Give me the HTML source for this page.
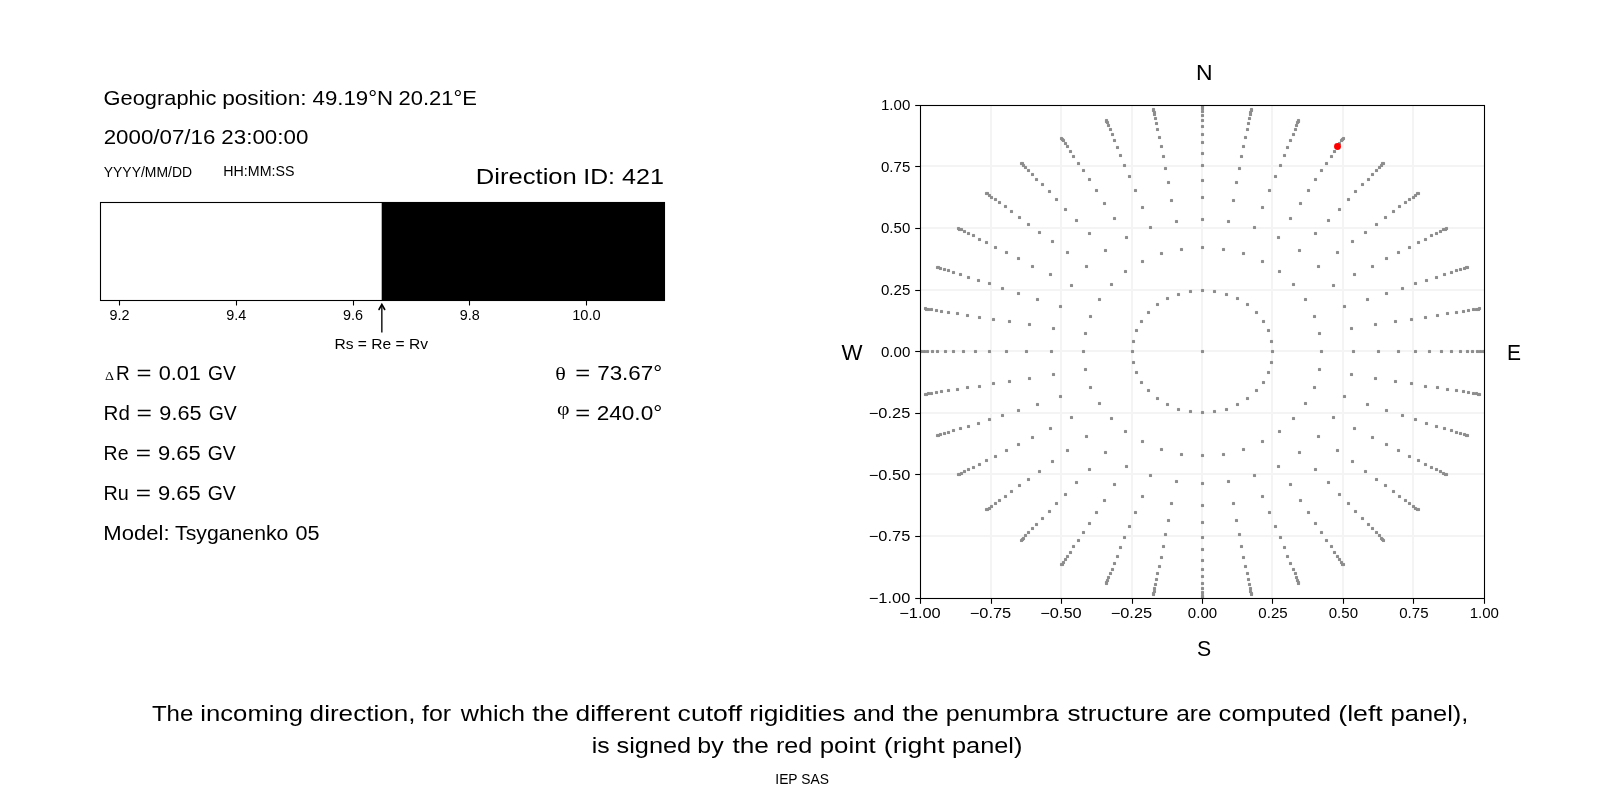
<!DOCTYPE html>
<html><head><meta charset="utf-8"><title>Cutoff rigidity direction</title>
<style>html,body{margin:0;padding:0;background:#fff;}body{width:1600px;height:800px;overflow:hidden;}svg{display:block;will-change:transform;font-family:"Liberation Sans",sans-serif;fill:#000;}.s{font-family:"Liberation Serif",serif;}</style></head><body>
<svg width="1600" height="800" viewBox="0 0 1600 800">
<rect x="0" y="0" width="1600" height="800" fill="#ffffff"/>
<rect x="100.5" y="202.5" width="564" height="98" fill="#fff" stroke="#000" stroke-width="1.1"/>
<rect x="381.7" y="202" width="283.3" height="99" fill="#000"/>
<line x1="119.50" y1="301" x2="119.50" y2="305.5" stroke="#000" stroke-width="1.1"/>
<text x="119.60" y="320" font-size="14.31" text-anchor="middle" textLength="20" lengthAdjust="spacingAndGlyphs">9.2</text>
<line x1="236.50" y1="301" x2="236.50" y2="305.5" stroke="#000" stroke-width="1.1"/>
<text x="236.30" y="320" font-size="14.31" text-anchor="middle" textLength="20" lengthAdjust="spacingAndGlyphs">9.4</text>
<line x1="353.50" y1="301" x2="353.50" y2="305.5" stroke="#000" stroke-width="1.1"/>
<text x="353.00" y="320" font-size="14.31" text-anchor="middle" textLength="20" lengthAdjust="spacingAndGlyphs">9.6</text>
<line x1="469.50" y1="301" x2="469.50" y2="305.5" stroke="#000" stroke-width="1.1"/>
<text x="469.70" y="320" font-size="14.31" text-anchor="middle" textLength="20" lengthAdjust="spacingAndGlyphs">9.8</text>
<line x1="586.50" y1="301" x2="586.50" y2="305.5" stroke="#000" stroke-width="1.1"/>
<text x="586.40" y="320" font-size="14.31" text-anchor="middle" textLength="28.5" lengthAdjust="spacingAndGlyphs">10.0</text>
<path d="M381.85 332.6 L381.85 305" stroke="#000" stroke-width="1.35" fill="none"/>
<path d="M379.0 309.5 L381.85 304.4 L384.7 309.5" stroke="#000" stroke-width="1.6" fill="none" stroke-linejoin="miter" stroke-linecap="round"/>
<text x="381.2" y="349" font-size="14.31" text-anchor="middle" textLength="93.5" lengthAdjust="spacingAndGlyphs">Rs = Re = Rv</text>
<text x="104.9" y="380.3" font-size="12.2" class="s" textLength="9" lengthAdjust="spacingAndGlyphs">Δ</text>
<text x="555.3" y="380.3" font-size="19.2" class="s" textLength="10.6" lengthAdjust="spacingAndGlyphs">θ</text>
<text x="557.0" y="415.3" font-size="18.1" class="s" textLength="12.6" lengthAdjust="spacingAndGlyphs">φ</text>
<g fill="#f4f4f4">
<rect x="990" y="105.5" width="2" height="493.0"/>
<rect x="920.5" y="535" width="564.0" height="2"/>
<rect x="1060" y="105.5" width="2" height="493.0"/>
<rect x="920.5" y="473" width="564.0" height="2"/>
<rect x="1131" y="105.5" width="2" height="493.0"/>
<rect x="920.5" y="412" width="564.0" height="2"/>
<rect x="1201" y="105.5" width="2" height="493.0"/>
<rect x="920.5" y="350" width="564.0" height="2"/>
<rect x="1271" y="105.5" width="2" height="493.0"/>
<rect x="920.5" y="289" width="564.0" height="2"/>
<rect x="1342" y="105.5" width="2" height="493.0"/>
<rect x="920.5" y="227" width="564.0" height="2"/>
<rect x="1412" y="105.5" width="2" height="493.0"/>
<rect x="920.5" y="165" width="564.0" height="2"/>
</g>
<clipPath id="c"><rect x="920" y="105" width="565" height="494"/></clipPath>
<g clip-path="url(#c)" fill="#8e8e8e" stroke="#8e8e8e" stroke-opacity="0.09" stroke-width="1">
<rect x="1201" y="350" width="3" height="3" rx="0.5"/>
<rect x="1201" y="289" width="3" height="3" rx="0.5"/>
<rect x="1213" y="290" width="3" height="3" rx="0.5"/>
<rect x="1225" y="293" width="3" height="3" rx="0.5"/>
<rect x="1236" y="297" width="3" height="3" rx="0.5"/>
<rect x="1246" y="303" width="3" height="3" rx="0.5"/>
<rect x="1255" y="311" width="3" height="3" rx="0.5"/>
<rect x="1262" y="320" width="3" height="3" rx="0.5"/>
<rect x="1267" y="329" width="3" height="3" rx="0.5"/>
<rect x="1270" y="340" width="3" height="3" rx="0.5"/>
<rect x="1271" y="350" width="3" height="3" rx="0.5"/>
<rect x="1270" y="361" width="3" height="3" rx="0.5"/>
<rect x="1267" y="371" width="3" height="3" rx="0.5"/>
<rect x="1262" y="381" width="3" height="3" rx="0.5"/>
<rect x="1255" y="389" width="3" height="3" rx="0.5"/>
<rect x="1246" y="397" width="3" height="3" rx="0.5"/>
<rect x="1236" y="403" width="3" height="3" rx="0.5"/>
<rect x="1225" y="408" width="3" height="3" rx="0.5"/>
<rect x="1213" y="410" width="3" height="3" rx="0.5"/>
<rect x="1201" y="411" width="3" height="3" rx="0.5"/>
<rect x="1189" y="410" width="3" height="3" rx="0.5"/>
<rect x="1177" y="408" width="3" height="3" rx="0.5"/>
<rect x="1166" y="403" width="3" height="3" rx="0.5"/>
<rect x="1156" y="397" width="3" height="3" rx="0.5"/>
<rect x="1147" y="389" width="3" height="3" rx="0.5"/>
<rect x="1140" y="381" width="3" height="3" rx="0.5"/>
<rect x="1135" y="371" width="3" height="3" rx="0.5"/>
<rect x="1132" y="361" width="3" height="3" rx="0.5"/>
<rect x="1131" y="350" width="3" height="3" rx="0.5"/>
<rect x="1132" y="340" width="3" height="3" rx="0.5"/>
<rect x="1135" y="329" width="3" height="3" rx="0.5"/>
<rect x="1140" y="320" width="3" height="3" rx="0.5"/>
<rect x="1147" y="311" width="3" height="3" rx="0.5"/>
<rect x="1156" y="303" width="3" height="3" rx="0.5"/>
<rect x="1166" y="297" width="3" height="3" rx="0.5"/>
<rect x="1177" y="293" width="3" height="3" rx="0.5"/>
<rect x="1189" y="290" width="3" height="3" rx="0.5"/>
<rect x="1201" y="246" width="3" height="3" rx="0.5"/>
<rect x="1222" y="248" width="3" height="3" rx="0.5"/>
<rect x="1242" y="252" width="3" height="3" rx="0.5"/>
<rect x="1261" y="260" width="3" height="3" rx="0.5"/>
<rect x="1278" y="270" width="3" height="3" rx="0.5"/>
<rect x="1292" y="283" width="3" height="3" rx="0.5"/>
<rect x="1304" y="298" width="3" height="3" rx="0.5"/>
<rect x="1313" y="315" width="3" height="3" rx="0.5"/>
<rect x="1318" y="332" width="3" height="3" rx="0.5"/>
<rect x="1320" y="350" width="3" height="3" rx="0.5"/>
<rect x="1318" y="368" width="3" height="3" rx="0.5"/>
<rect x="1313" y="386" width="3" height="3" rx="0.5"/>
<rect x="1304" y="402" width="3" height="3" rx="0.5"/>
<rect x="1292" y="417" width="3" height="3" rx="0.5"/>
<rect x="1278" y="430" width="3" height="3" rx="0.5"/>
<rect x="1261" y="440" width="3" height="3" rx="0.5"/>
<rect x="1242" y="448" width="3" height="3" rx="0.5"/>
<rect x="1222" y="453" width="3" height="3" rx="0.5"/>
<rect x="1201" y="454" width="3" height="3" rx="0.5"/>
<rect x="1180" y="453" width="3" height="3" rx="0.5"/>
<rect x="1160" y="448" width="3" height="3" rx="0.5"/>
<rect x="1141" y="440" width="3" height="3" rx="0.5"/>
<rect x="1124" y="430" width="3" height="3" rx="0.5"/>
<rect x="1110" y="417" width="3" height="3" rx="0.5"/>
<rect x="1098" y="402" width="3" height="3" rx="0.5"/>
<rect x="1089" y="386" width="3" height="3" rx="0.5"/>
<rect x="1084" y="368" width="3" height="3" rx="0.5"/>
<rect x="1082" y="350" width="3" height="3" rx="0.5"/>
<rect x="1084" y="332" width="3" height="3" rx="0.5"/>
<rect x="1089" y="315" width="3" height="3" rx="0.5"/>
<rect x="1098" y="298" width="3" height="3" rx="0.5"/>
<rect x="1110" y="283" width="3" height="3" rx="0.5"/>
<rect x="1124" y="270" width="3" height="3" rx="0.5"/>
<rect x="1141" y="260" width="3" height="3" rx="0.5"/>
<rect x="1160" y="252" width="3" height="3" rx="0.5"/>
<rect x="1180" y="248" width="3" height="3" rx="0.5"/>
<rect x="1201" y="218" width="3" height="3" rx="0.5"/>
<rect x="1227" y="220" width="3" height="3" rx="0.5"/>
<rect x="1253" y="226" width="3" height="3" rx="0.5"/>
<rect x="1277" y="236" width="3" height="3" rx="0.5"/>
<rect x="1298" y="249" width="3" height="3" rx="0.5"/>
<rect x="1317" y="265" width="3" height="3" rx="0.5"/>
<rect x="1332" y="284" width="3" height="3" rx="0.5"/>
<rect x="1343" y="305" width="3" height="3" rx="0.5"/>
<rect x="1350" y="327" width="3" height="3" rx="0.5"/>
<rect x="1352" y="350" width="3" height="3" rx="0.5"/>
<rect x="1350" y="373" width="3" height="3" rx="0.5"/>
<rect x="1343" y="395" width="3" height="3" rx="0.5"/>
<rect x="1332" y="416" width="3" height="3" rx="0.5"/>
<rect x="1317" y="435" width="3" height="3" rx="0.5"/>
<rect x="1298" y="451" width="3" height="3" rx="0.5"/>
<rect x="1277" y="465" width="3" height="3" rx="0.5"/>
<rect x="1253" y="474" width="3" height="3" rx="0.5"/>
<rect x="1227" y="480" width="3" height="3" rx="0.5"/>
<rect x="1201" y="482" width="3" height="3" rx="0.5"/>
<rect x="1175" y="480" width="3" height="3" rx="0.5"/>
<rect x="1149" y="474" width="3" height="3" rx="0.5"/>
<rect x="1125" y="465" width="3" height="3" rx="0.5"/>
<rect x="1104" y="451" width="3" height="3" rx="0.5"/>
<rect x="1085" y="435" width="3" height="3" rx="0.5"/>
<rect x="1070" y="416" width="3" height="3" rx="0.5"/>
<rect x="1059" y="395" width="3" height="3" rx="0.5"/>
<rect x="1052" y="373" width="3" height="3" rx="0.5"/>
<rect x="1050" y="350" width="3" height="3" rx="0.5"/>
<rect x="1052" y="327" width="3" height="3" rx="0.5"/>
<rect x="1059" y="305" width="3" height="3" rx="0.5"/>
<rect x="1070" y="284" width="3" height="3" rx="0.5"/>
<rect x="1085" y="265" width="3" height="3" rx="0.5"/>
<rect x="1104" y="249" width="3" height="3" rx="0.5"/>
<rect x="1125" y="236" width="3" height="3" rx="0.5"/>
<rect x="1149" y="226" width="3" height="3" rx="0.5"/>
<rect x="1175" y="220" width="3" height="3" rx="0.5"/>
<rect x="1201" y="196" width="3" height="3" rx="0.5"/>
<rect x="1232" y="199" width="3" height="3" rx="0.5"/>
<rect x="1261" y="206" width="3" height="3" rx="0.5"/>
<rect x="1289" y="217" width="3" height="3" rx="0.5"/>
<rect x="1314" y="232" width="3" height="3" rx="0.5"/>
<rect x="1336" y="251" width="3" height="3" rx="0.5"/>
<rect x="1353" y="273" width="3" height="3" rx="0.5"/>
<rect x="1366" y="298" width="3" height="3" rx="0.5"/>
<rect x="1374" y="323" width="3" height="3" rx="0.5"/>
<rect x="1377" y="350" width="3" height="3" rx="0.5"/>
<rect x="1374" y="377" width="3" height="3" rx="0.5"/>
<rect x="1366" y="403" width="3" height="3" rx="0.5"/>
<rect x="1353" y="427" width="3" height="3" rx="0.5"/>
<rect x="1336" y="449" width="3" height="3" rx="0.5"/>
<rect x="1314" y="468" width="3" height="3" rx="0.5"/>
<rect x="1289" y="483" width="3" height="3" rx="0.5"/>
<rect x="1261" y="495" width="3" height="3" rx="0.5"/>
<rect x="1232" y="502" width="3" height="3" rx="0.5"/>
<rect x="1201" y="504" width="3" height="3" rx="0.5"/>
<rect x="1170" y="502" width="3" height="3" rx="0.5"/>
<rect x="1141" y="495" width="3" height="3" rx="0.5"/>
<rect x="1113" y="483" width="3" height="3" rx="0.5"/>
<rect x="1088" y="468" width="3" height="3" rx="0.5"/>
<rect x="1066" y="449" width="3" height="3" rx="0.5"/>
<rect x="1049" y="427" width="3" height="3" rx="0.5"/>
<rect x="1036" y="403" width="3" height="3" rx="0.5"/>
<rect x="1028" y="377" width="3" height="3" rx="0.5"/>
<rect x="1025" y="350" width="3" height="3" rx="0.5"/>
<rect x="1028" y="323" width="3" height="3" rx="0.5"/>
<rect x="1036" y="298" width="3" height="3" rx="0.5"/>
<rect x="1049" y="273" width="3" height="3" rx="0.5"/>
<rect x="1066" y="251" width="3" height="3" rx="0.5"/>
<rect x="1088" y="232" width="3" height="3" rx="0.5"/>
<rect x="1113" y="217" width="3" height="3" rx="0.5"/>
<rect x="1141" y="206" width="3" height="3" rx="0.5"/>
<rect x="1170" y="199" width="3" height="3" rx="0.5"/>
<rect x="1201" y="179" width="3" height="3" rx="0.5"/>
<rect x="1235" y="181" width="3" height="3" rx="0.5"/>
<rect x="1268" y="189" width="3" height="3" rx="0.5"/>
<rect x="1299" y="202" width="3" height="3" rx="0.5"/>
<rect x="1327" y="219" width="3" height="3" rx="0.5"/>
<rect x="1351" y="240" width="3" height="3" rx="0.5"/>
<rect x="1371" y="265" width="3" height="3" rx="0.5"/>
<rect x="1385" y="292" width="3" height="3" rx="0.5"/>
<rect x="1394" y="320" width="3" height="3" rx="0.5"/>
<rect x="1397" y="350" width="3" height="3" rx="0.5"/>
<rect x="1394" y="380" width="3" height="3" rx="0.5"/>
<rect x="1385" y="409" width="3" height="3" rx="0.5"/>
<rect x="1371" y="436" width="3" height="3" rx="0.5"/>
<rect x="1351" y="460" width="3" height="3" rx="0.5"/>
<rect x="1327" y="481" width="3" height="3" rx="0.5"/>
<rect x="1299" y="499" width="3" height="3" rx="0.5"/>
<rect x="1268" y="511" width="3" height="3" rx="0.5"/>
<rect x="1235" y="519" width="3" height="3" rx="0.5"/>
<rect x="1201" y="521" width="3" height="3" rx="0.5"/>
<rect x="1167" y="519" width="3" height="3" rx="0.5"/>
<rect x="1134" y="511" width="3" height="3" rx="0.5"/>
<rect x="1103" y="499" width="3" height="3" rx="0.5"/>
<rect x="1075" y="481" width="3" height="3" rx="0.5"/>
<rect x="1051" y="460" width="3" height="3" rx="0.5"/>
<rect x="1031" y="436" width="3" height="3" rx="0.5"/>
<rect x="1017" y="409" width="3" height="3" rx="0.5"/>
<rect x="1008" y="380" width="3" height="3" rx="0.5"/>
<rect x="1005" y="350" width="3" height="3" rx="0.5"/>
<rect x="1008" y="320" width="3" height="3" rx="0.5"/>
<rect x="1017" y="292" width="3" height="3" rx="0.5"/>
<rect x="1031" y="265" width="3" height="3" rx="0.5"/>
<rect x="1051" y="240" width="3" height="3" rx="0.5"/>
<rect x="1075" y="219" width="3" height="3" rx="0.5"/>
<rect x="1103" y="202" width="3" height="3" rx="0.5"/>
<rect x="1134" y="189" width="3" height="3" rx="0.5"/>
<rect x="1167" y="181" width="3" height="3" rx="0.5"/>
<rect x="1201" y="164" width="3" height="3" rx="0.5"/>
<rect x="1238" y="167" width="3" height="3" rx="0.5"/>
<rect x="1274" y="175" width="3" height="3" rx="0.5"/>
<rect x="1307" y="189" width="3" height="3" rx="0.5"/>
<rect x="1338" y="208" width="3" height="3" rx="0.5"/>
<rect x="1364" y="231" width="3" height="3" rx="0.5"/>
<rect x="1385" y="257" width="3" height="3" rx="0.5"/>
<rect x="1401" y="287" width="3" height="3" rx="0.5"/>
<rect x="1410" y="318" width="3" height="3" rx="0.5"/>
<rect x="1414" y="350" width="3" height="3" rx="0.5"/>
<rect x="1410" y="382" width="3" height="3" rx="0.5"/>
<rect x="1401" y="414" width="3" height="3" rx="0.5"/>
<rect x="1385" y="443" width="3" height="3" rx="0.5"/>
<rect x="1364" y="470" width="3" height="3" rx="0.5"/>
<rect x="1338" y="493" width="3" height="3" rx="0.5"/>
<rect x="1307" y="511" width="3" height="3" rx="0.5"/>
<rect x="1274" y="525" width="3" height="3" rx="0.5"/>
<rect x="1238" y="533" width="3" height="3" rx="0.5"/>
<rect x="1201" y="536" width="3" height="3" rx="0.5"/>
<rect x="1164" y="533" width="3" height="3" rx="0.5"/>
<rect x="1128" y="525" width="3" height="3" rx="0.5"/>
<rect x="1095" y="511" width="3" height="3" rx="0.5"/>
<rect x="1064" y="493" width="3" height="3" rx="0.5"/>
<rect x="1038" y="470" width="3" height="3" rx="0.5"/>
<rect x="1017" y="443" width="3" height="3" rx="0.5"/>
<rect x="1001" y="414" width="3" height="3" rx="0.5"/>
<rect x="992" y="382" width="3" height="3" rx="0.5"/>
<rect x="988" y="350" width="3" height="3" rx="0.5"/>
<rect x="992" y="318" width="3" height="3" rx="0.5"/>
<rect x="1001" y="287" width="3" height="3" rx="0.5"/>
<rect x="1017" y="257" width="3" height="3" rx="0.5"/>
<rect x="1038" y="231" width="3" height="3" rx="0.5"/>
<rect x="1064" y="208" width="3" height="3" rx="0.5"/>
<rect x="1095" y="189" width="3" height="3" rx="0.5"/>
<rect x="1128" y="175" width="3" height="3" rx="0.5"/>
<rect x="1164" y="167" width="3" height="3" rx="0.5"/>
<rect x="1201" y="152" width="3" height="3" rx="0.5"/>
<rect x="1240" y="155" width="3" height="3" rx="0.5"/>
<rect x="1279" y="164" width="3" height="3" rx="0.5"/>
<rect x="1314" y="178" width="3" height="3" rx="0.5"/>
<rect x="1347" y="198" width="3" height="3" rx="0.5"/>
<rect x="1375" y="223" width="3" height="3" rx="0.5"/>
<rect x="1397" y="251" width="3" height="3" rx="0.5"/>
<rect x="1414" y="282" width="3" height="3" rx="0.5"/>
<rect x="1424" y="316" width="3" height="3" rx="0.5"/>
<rect x="1428" y="350" width="3" height="3" rx="0.5"/>
<rect x="1424" y="385" width="3" height="3" rx="0.5"/>
<rect x="1414" y="418" width="3" height="3" rx="0.5"/>
<rect x="1397" y="449" width="3" height="3" rx="0.5"/>
<rect x="1375" y="478" width="3" height="3" rx="0.5"/>
<rect x="1347" y="502" width="3" height="3" rx="0.5"/>
<rect x="1314" y="522" width="3" height="3" rx="0.5"/>
<rect x="1279" y="536" width="3" height="3" rx="0.5"/>
<rect x="1240" y="545" width="3" height="3" rx="0.5"/>
<rect x="1201" y="548" width="3" height="3" rx="0.5"/>
<rect x="1162" y="545" width="3" height="3" rx="0.5"/>
<rect x="1123" y="536" width="3" height="3" rx="0.5"/>
<rect x="1088" y="522" width="3" height="3" rx="0.5"/>
<rect x="1055" y="502" width="3" height="3" rx="0.5"/>
<rect x="1027" y="478" width="3" height="3" rx="0.5"/>
<rect x="1005" y="449" width="3" height="3" rx="0.5"/>
<rect x="988" y="418" width="3" height="3" rx="0.5"/>
<rect x="978" y="385" width="3" height="3" rx="0.5"/>
<rect x="974" y="350" width="3" height="3" rx="0.5"/>
<rect x="978" y="316" width="3" height="3" rx="0.5"/>
<rect x="988" y="282" width="3" height="3" rx="0.5"/>
<rect x="1005" y="251" width="3" height="3" rx="0.5"/>
<rect x="1027" y="223" width="3" height="3" rx="0.5"/>
<rect x="1055" y="198" width="3" height="3" rx="0.5"/>
<rect x="1088" y="178" width="3" height="3" rx="0.5"/>
<rect x="1123" y="164" width="3" height="3" rx="0.5"/>
<rect x="1162" y="155" width="3" height="3" rx="0.5"/>
<rect x="1201" y="141" width="3" height="3" rx="0.5"/>
<rect x="1242" y="145" width="3" height="3" rx="0.5"/>
<rect x="1283" y="154" width="3" height="3" rx="0.5"/>
<rect x="1320" y="169" width="3" height="3" rx="0.5"/>
<rect x="1354" y="190" width="3" height="3" rx="0.5"/>
<rect x="1384" y="216" width="3" height="3" rx="0.5"/>
<rect x="1408" y="246" width="3" height="3" rx="0.5"/>
<rect x="1425" y="279" width="3" height="3" rx="0.5"/>
<rect x="1436" y="314" width="3" height="3" rx="0.5"/>
<rect x="1440" y="350" width="3" height="3" rx="0.5"/>
<rect x="1436" y="386" width="3" height="3" rx="0.5"/>
<rect x="1425" y="422" width="3" height="3" rx="0.5"/>
<rect x="1408" y="455" width="3" height="3" rx="0.5"/>
<rect x="1384" y="484" width="3" height="3" rx="0.5"/>
<rect x="1354" y="510" width="3" height="3" rx="0.5"/>
<rect x="1320" y="531" width="3" height="3" rx="0.5"/>
<rect x="1283" y="546" width="3" height="3" rx="0.5"/>
<rect x="1242" y="556" width="3" height="3" rx="0.5"/>
<rect x="1201" y="559" width="3" height="3" rx="0.5"/>
<rect x="1160" y="556" width="3" height="3" rx="0.5"/>
<rect x="1119" y="546" width="3" height="3" rx="0.5"/>
<rect x="1082" y="531" width="3" height="3" rx="0.5"/>
<rect x="1048" y="510" width="3" height="3" rx="0.5"/>
<rect x="1018" y="484" width="3" height="3" rx="0.5"/>
<rect x="994" y="455" width="3" height="3" rx="0.5"/>
<rect x="977" y="422" width="3" height="3" rx="0.5"/>
<rect x="966" y="386" width="3" height="3" rx="0.5"/>
<rect x="962" y="350" width="3" height="3" rx="0.5"/>
<rect x="966" y="314" width="3" height="3" rx="0.5"/>
<rect x="977" y="279" width="3" height="3" rx="0.5"/>
<rect x="994" y="246" width="3" height="3" rx="0.5"/>
<rect x="1018" y="216" width="3" height="3" rx="0.5"/>
<rect x="1048" y="190" width="3" height="3" rx="0.5"/>
<rect x="1082" y="169" width="3" height="3" rx="0.5"/>
<rect x="1119" y="154" width="3" height="3" rx="0.5"/>
<rect x="1160" y="145" width="3" height="3" rx="0.5"/>
<rect x="1201" y="133" width="3" height="3" rx="0.5"/>
<rect x="1244" y="136" width="3" height="3" rx="0.5"/>
<rect x="1286" y="146" width="3" height="3" rx="0.5"/>
<rect x="1325" y="162" width="3" height="3" rx="0.5"/>
<rect x="1361" y="183" width="3" height="3" rx="0.5"/>
<rect x="1392" y="210" width="3" height="3" rx="0.5"/>
<rect x="1417" y="241" width="3" height="3" rx="0.5"/>
<rect x="1435" y="276" width="3" height="3" rx="0.5"/>
<rect x="1446" y="312" width="3" height="3" rx="0.5"/>
<rect x="1450" y="350" width="3" height="3" rx="0.5"/>
<rect x="1446" y="388" width="3" height="3" rx="0.5"/>
<rect x="1435" y="425" width="3" height="3" rx="0.5"/>
<rect x="1417" y="459" width="3" height="3" rx="0.5"/>
<rect x="1392" y="490" width="3" height="3" rx="0.5"/>
<rect x="1361" y="517" width="3" height="3" rx="0.5"/>
<rect x="1325" y="539" width="3" height="3" rx="0.5"/>
<rect x="1286" y="555" width="3" height="3" rx="0.5"/>
<rect x="1244" y="565" width="3" height="3" rx="0.5"/>
<rect x="1201" y="568" width="3" height="3" rx="0.5"/>
<rect x="1158" y="565" width="3" height="3" rx="0.5"/>
<rect x="1116" y="555" width="3" height="3" rx="0.5"/>
<rect x="1077" y="539" width="3" height="3" rx="0.5"/>
<rect x="1041" y="517" width="3" height="3" rx="0.5"/>
<rect x="1010" y="490" width="3" height="3" rx="0.5"/>
<rect x="985" y="459" width="3" height="3" rx="0.5"/>
<rect x="967" y="425" width="3" height="3" rx="0.5"/>
<rect x="956" y="388" width="3" height="3" rx="0.5"/>
<rect x="952" y="350" width="3" height="3" rx="0.5"/>
<rect x="956" y="312" width="3" height="3" rx="0.5"/>
<rect x="967" y="276" width="3" height="3" rx="0.5"/>
<rect x="985" y="241" width="3" height="3" rx="0.5"/>
<rect x="1010" y="210" width="3" height="3" rx="0.5"/>
<rect x="1041" y="183" width="3" height="3" rx="0.5"/>
<rect x="1077" y="162" width="3" height="3" rx="0.5"/>
<rect x="1116" y="146" width="3" height="3" rx="0.5"/>
<rect x="1158" y="136" width="3" height="3" rx="0.5"/>
<rect x="1201" y="125" width="3" height="3" rx="0.5"/>
<rect x="1246" y="128" width="3" height="3" rx="0.5"/>
<rect x="1289" y="139" width="3" height="3" rx="0.5"/>
<rect x="1330" y="155" width="3" height="3" rx="0.5"/>
<rect x="1367" y="178" width="3" height="3" rx="0.5"/>
<rect x="1398" y="205" width="3" height="3" rx="0.5"/>
<rect x="1424" y="238" width="3" height="3" rx="0.5"/>
<rect x="1443" y="273" width="3" height="3" rx="0.5"/>
<rect x="1455" y="311" width="3" height="3" rx="0.5"/>
<rect x="1459" y="350" width="3" height="3" rx="0.5"/>
<rect x="1455" y="389" width="3" height="3" rx="0.5"/>
<rect x="1443" y="427" width="3" height="3" rx="0.5"/>
<rect x="1424" y="463" width="3" height="3" rx="0.5"/>
<rect x="1398" y="495" width="3" height="3" rx="0.5"/>
<rect x="1367" y="523" width="3" height="3" rx="0.5"/>
<rect x="1330" y="545" width="3" height="3" rx="0.5"/>
<rect x="1289" y="562" width="3" height="3" rx="0.5"/>
<rect x="1246" y="572" width="3" height="3" rx="0.5"/>
<rect x="1201" y="575" width="3" height="3" rx="0.5"/>
<rect x="1156" y="572" width="3" height="3" rx="0.5"/>
<rect x="1113" y="562" width="3" height="3" rx="0.5"/>
<rect x="1072" y="545" width="3" height="3" rx="0.5"/>
<rect x="1035" y="523" width="3" height="3" rx="0.5"/>
<rect x="1004" y="495" width="3" height="3" rx="0.5"/>
<rect x="978" y="463" width="3" height="3" rx="0.5"/>
<rect x="959" y="427" width="3" height="3" rx="0.5"/>
<rect x="947" y="389" width="3" height="3" rx="0.5"/>
<rect x="944" y="350" width="3" height="3" rx="0.5"/>
<rect x="947" y="311" width="3" height="3" rx="0.5"/>
<rect x="959" y="273" width="3" height="3" rx="0.5"/>
<rect x="978" y="238" width="3" height="3" rx="0.5"/>
<rect x="1004" y="205" width="3" height="3" rx="0.5"/>
<rect x="1035" y="178" width="3" height="3" rx="0.5"/>
<rect x="1072" y="155" width="3" height="3" rx="0.5"/>
<rect x="1113" y="139" width="3" height="3" rx="0.5"/>
<rect x="1156" y="128" width="3" height="3" rx="0.5"/>
<rect x="1201" y="119" width="3" height="3" rx="0.5"/>
<rect x="1247" y="122" width="3" height="3" rx="0.5"/>
<rect x="1292" y="133" width="3" height="3" rx="0.5"/>
<rect x="1333" y="150" width="3" height="3" rx="0.5"/>
<rect x="1371" y="173" width="3" height="3" rx="0.5"/>
<rect x="1404" y="201" width="3" height="3" rx="0.5"/>
<rect x="1430" y="234" width="3" height="3" rx="0.5"/>
<rect x="1450" y="271" width="3" height="3" rx="0.5"/>
<rect x="1462" y="310" width="3" height="3" rx="0.5"/>
<rect x="1466" y="350" width="3" height="3" rx="0.5"/>
<rect x="1462" y="390" width="3" height="3" rx="0.5"/>
<rect x="1450" y="429" width="3" height="3" rx="0.5"/>
<rect x="1430" y="466" width="3" height="3" rx="0.5"/>
<rect x="1404" y="499" width="3" height="3" rx="0.5"/>
<rect x="1371" y="527" width="3" height="3" rx="0.5"/>
<rect x="1333" y="551" width="3" height="3" rx="0.5"/>
<rect x="1292" y="568" width="3" height="3" rx="0.5"/>
<rect x="1247" y="578" width="3" height="3" rx="0.5"/>
<rect x="1201" y="582" width="3" height="3" rx="0.5"/>
<rect x="1155" y="578" width="3" height="3" rx="0.5"/>
<rect x="1111" y="568" width="3" height="3" rx="0.5"/>
<rect x="1069" y="551" width="3" height="3" rx="0.5"/>
<rect x="1031" y="527" width="3" height="3" rx="0.5"/>
<rect x="998" y="499" width="3" height="3" rx="0.5"/>
<rect x="972" y="466" width="3" height="3" rx="0.5"/>
<rect x="952" y="429" width="3" height="3" rx="0.5"/>
<rect x="940" y="390" width="3" height="3" rx="0.5"/>
<rect x="936" y="350" width="3" height="3" rx="0.5"/>
<rect x="940" y="310" width="3" height="3" rx="0.5"/>
<rect x="952" y="271" width="3" height="3" rx="0.5"/>
<rect x="972" y="234" width="3" height="3" rx="0.5"/>
<rect x="998" y="201" width="3" height="3" rx="0.5"/>
<rect x="1031" y="173" width="3" height="3" rx="0.5"/>
<rect x="1069" y="150" width="3" height="3" rx="0.5"/>
<rect x="1111" y="133" width="3" height="3" rx="0.5"/>
<rect x="1155" y="122" width="3" height="3" rx="0.5"/>
<rect x="1201" y="114" width="3" height="3" rx="0.5"/>
<rect x="1248" y="117" width="3" height="3" rx="0.5"/>
<rect x="1294" y="128" width="3" height="3" rx="0.5"/>
<rect x="1336" y="145" width="3" height="3" rx="0.5"/>
<rect x="1375" y="169" width="3" height="3" rx="0.5"/>
<rect x="1408" y="198" width="3" height="3" rx="0.5"/>
<rect x="1435" y="232" width="3" height="3" rx="0.5"/>
<rect x="1455" y="269" width="3" height="3" rx="0.5"/>
<rect x="1467" y="309" width="3" height="3" rx="0.5"/>
<rect x="1471" y="350" width="3" height="3" rx="0.5"/>
<rect x="1467" y="391" width="3" height="3" rx="0.5"/>
<rect x="1455" y="431" width="3" height="3" rx="0.5"/>
<rect x="1435" y="468" width="3" height="3" rx="0.5"/>
<rect x="1408" y="502" width="3" height="3" rx="0.5"/>
<rect x="1375" y="531" width="3" height="3" rx="0.5"/>
<rect x="1336" y="555" width="3" height="3" rx="0.5"/>
<rect x="1294" y="572" width="3" height="3" rx="0.5"/>
<rect x="1248" y="583" width="3" height="3" rx="0.5"/>
<rect x="1201" y="587" width="3" height="3" rx="0.5"/>
<rect x="1154" y="583" width="3" height="3" rx="0.5"/>
<rect x="1109" y="572" width="3" height="3" rx="0.5"/>
<rect x="1066" y="555" width="3" height="3" rx="0.5"/>
<rect x="1027" y="531" width="3" height="3" rx="0.5"/>
<rect x="994" y="502" width="3" height="3" rx="0.5"/>
<rect x="967" y="468" width="3" height="3" rx="0.5"/>
<rect x="947" y="431" width="3" height="3" rx="0.5"/>
<rect x="935" y="391" width="3" height="3" rx="0.5"/>
<rect x="931" y="350" width="3" height="3" rx="0.5"/>
<rect x="935" y="309" width="3" height="3" rx="0.5"/>
<rect x="947" y="269" width="3" height="3" rx="0.5"/>
<rect x="967" y="232" width="3" height="3" rx="0.5"/>
<rect x="994" y="198" width="3" height="3" rx="0.5"/>
<rect x="1027" y="169" width="3" height="3" rx="0.5"/>
<rect x="1066" y="145" width="3" height="3" rx="0.5"/>
<rect x="1109" y="128" width="3" height="3" rx="0.5"/>
<rect x="1154" y="117" width="3" height="3" rx="0.5"/>
<rect x="1201" y="110" width="3" height="3" rx="0.5"/>
<rect x="1249" y="113" width="3" height="3" rx="0.5"/>
<rect x="1295" y="124" width="3" height="3" rx="0.5"/>
<rect x="1338" y="142" width="3" height="3" rx="0.5"/>
<rect x="1378" y="166" width="3" height="3" rx="0.5"/>
<rect x="1412" y="196" width="3" height="3" rx="0.5"/>
<rect x="1439" y="230" width="3" height="3" rx="0.5"/>
<rect x="1459" y="268" width="3" height="3" rx="0.5"/>
<rect x="1472" y="308" width="3" height="3" rx="0.5"/>
<rect x="1476" y="350" width="3" height="3" rx="0.5"/>
<rect x="1472" y="392" width="3" height="3" rx="0.5"/>
<rect x="1459" y="432" width="3" height="3" rx="0.5"/>
<rect x="1439" y="470" width="3" height="3" rx="0.5"/>
<rect x="1412" y="505" width="3" height="3" rx="0.5"/>
<rect x="1378" y="534" width="3" height="3" rx="0.5"/>
<rect x="1338" y="558" width="3" height="3" rx="0.5"/>
<rect x="1295" y="576" width="3" height="3" rx="0.5"/>
<rect x="1249" y="587" width="3" height="3" rx="0.5"/>
<rect x="1201" y="591" width="3" height="3" rx="0.5"/>
<rect x="1153" y="587" width="3" height="3" rx="0.5"/>
<rect x="1107" y="576" width="3" height="3" rx="0.5"/>
<rect x="1064" y="558" width="3" height="3" rx="0.5"/>
<rect x="1024" y="534" width="3" height="3" rx="0.5"/>
<rect x="990" y="505" width="3" height="3" rx="0.5"/>
<rect x="963" y="470" width="3" height="3" rx="0.5"/>
<rect x="943" y="432" width="3" height="3" rx="0.5"/>
<rect x="930" y="392" width="3" height="3" rx="0.5"/>
<rect x="926" y="350" width="3" height="3" rx="0.5"/>
<rect x="930" y="308" width="3" height="3" rx="0.5"/>
<rect x="943" y="268" width="3" height="3" rx="0.5"/>
<rect x="963" y="230" width="3" height="3" rx="0.5"/>
<rect x="990" y="196" width="3" height="3" rx="0.5"/>
<rect x="1024" y="166" width="3" height="3" rx="0.5"/>
<rect x="1064" y="142" width="3" height="3" rx="0.5"/>
<rect x="1107" y="124" width="3" height="3" rx="0.5"/>
<rect x="1153" y="113" width="3" height="3" rx="0.5"/>
<rect x="1201" y="107" width="3" height="3" rx="0.5"/>
<rect x="1249" y="111" width="3" height="3" rx="0.5"/>
<rect x="1296" y="121" width="3" height="3" rx="0.5"/>
<rect x="1340" y="139" width="3" height="3" rx="0.5"/>
<rect x="1380" y="164" width="3" height="3" rx="0.5"/>
<rect x="1414" y="194" width="3" height="3" rx="0.5"/>
<rect x="1442" y="228" width="3" height="3" rx="0.5"/>
<rect x="1463" y="267" width="3" height="3" rx="0.5"/>
<rect x="1475" y="308" width="3" height="3" rx="0.5"/>
<rect x="1479" y="350" width="3" height="3" rx="0.5"/>
<rect x="1475" y="392" width="3" height="3" rx="0.5"/>
<rect x="1463" y="433" width="3" height="3" rx="0.5"/>
<rect x="1442" y="472" width="3" height="3" rx="0.5"/>
<rect x="1414" y="507" width="3" height="3" rx="0.5"/>
<rect x="1380" y="537" width="3" height="3" rx="0.5"/>
<rect x="1340" y="561" width="3" height="3" rx="0.5"/>
<rect x="1296" y="579" width="3" height="3" rx="0.5"/>
<rect x="1249" y="590" width="3" height="3" rx="0.5"/>
<rect x="1201" y="594" width="3" height="3" rx="0.5"/>
<rect x="1153" y="590" width="3" height="3" rx="0.5"/>
<rect x="1106" y="579" width="3" height="3" rx="0.5"/>
<rect x="1062" y="561" width="3" height="3" rx="0.5"/>
<rect x="1022" y="537" width="3" height="3" rx="0.5"/>
<rect x="988" y="507" width="3" height="3" rx="0.5"/>
<rect x="960" y="472" width="3" height="3" rx="0.5"/>
<rect x="939" y="433" width="3" height="3" rx="0.5"/>
<rect x="927" y="392" width="3" height="3" rx="0.5"/>
<rect x="923" y="350" width="3" height="3" rx="0.5"/>
<rect x="927" y="308" width="3" height="3" rx="0.5"/>
<rect x="939" y="267" width="3" height="3" rx="0.5"/>
<rect x="960" y="228" width="3" height="3" rx="0.5"/>
<rect x="988" y="194" width="3" height="3" rx="0.5"/>
<rect x="1022" y="164" width="3" height="3" rx="0.5"/>
<rect x="1062" y="139" width="3" height="3" rx="0.5"/>
<rect x="1106" y="121" width="3" height="3" rx="0.5"/>
<rect x="1153" y="111" width="3" height="3" rx="0.5"/>
<rect x="1201" y="105" width="3" height="3" rx="0.5"/>
<rect x="1250" y="109" width="3" height="3" rx="0.5"/>
<rect x="1297" y="120" width="3" height="3" rx="0.5"/>
<rect x="1341" y="138" width="3" height="3" rx="0.5"/>
<rect x="1381" y="162" width="3" height="3" rx="0.5"/>
<rect x="1416" y="192" width="3" height="3" rx="0.5"/>
<rect x="1444" y="228" width="3" height="3" rx="0.5"/>
<rect x="1465" y="266" width="3" height="3" rx="0.5"/>
<rect x="1477" y="308" width="3" height="3" rx="0.5"/>
<rect x="1482" y="350" width="3" height="3" rx="0.5"/>
<rect x="1477" y="393" width="3" height="3" rx="0.5"/>
<rect x="1465" y="434" width="3" height="3" rx="0.5"/>
<rect x="1444" y="473" width="3" height="3" rx="0.5"/>
<rect x="1416" y="508" width="3" height="3" rx="0.5"/>
<rect x="1381" y="538" width="3" height="3" rx="0.5"/>
<rect x="1341" y="563" width="3" height="3" rx="0.5"/>
<rect x="1297" y="581" width="3" height="3" rx="0.5"/>
<rect x="1250" y="592" width="3" height="3" rx="0.5"/>
<rect x="1201" y="595" width="3" height="3" rx="0.5"/>
<rect x="1152" y="592" width="3" height="3" rx="0.5"/>
<rect x="1105" y="581" width="3" height="3" rx="0.5"/>
<rect x="1061" y="563" width="3" height="3" rx="0.5"/>
<rect x="1021" y="538" width="3" height="3" rx="0.5"/>
<rect x="986" y="508" width="3" height="3" rx="0.5"/>
<rect x="958" y="473" width="3" height="3" rx="0.5"/>
<rect x="937" y="434" width="3" height="3" rx="0.5"/>
<rect x="925" y="393" width="3" height="3" rx="0.5"/>
<rect x="920" y="350" width="3" height="3" rx="0.5"/>
<rect x="925" y="308" width="3" height="3" rx="0.5"/>
<rect x="937" y="266" width="3" height="3" rx="0.5"/>
<rect x="958" y="228" width="3" height="3" rx="0.5"/>
<rect x="986" y="192" width="3" height="3" rx="0.5"/>
<rect x="1021" y="162" width="3" height="3" rx="0.5"/>
<rect x="1061" y="138" width="3" height="3" rx="0.5"/>
<rect x="1105" y="120" width="3" height="3" rx="0.5"/>
<rect x="1152" y="109" width="3" height="3" rx="0.5"/>
<rect x="1201" y="104" width="3" height="3" rx="0.5"/>
<rect x="1250" y="108" width="3" height="3" rx="0.5"/>
<rect x="1297" y="119" width="3" height="3" rx="0.5"/>
<rect x="1342" y="137" width="3" height="3" rx="0.5"/>
<rect x="1382" y="162" width="3" height="3" rx="0.5"/>
<rect x="1417" y="192" width="3" height="3" rx="0.5"/>
<rect x="1445" y="227" width="3" height="3" rx="0.5"/>
<rect x="1466" y="266" width="3" height="3" rx="0.5"/>
<rect x="1478" y="307" width="3" height="3" rx="0.5"/>
<rect x="1483" y="350" width="3" height="3" rx="0.5"/>
<rect x="1478" y="393" width="3" height="3" rx="0.5"/>
<rect x="1466" y="434" width="3" height="3" rx="0.5"/>
<rect x="1445" y="473" width="3" height="3" rx="0.5"/>
<rect x="1417" y="508" width="3" height="3" rx="0.5"/>
<rect x="1382" y="539" width="3" height="3" rx="0.5"/>
<rect x="1342" y="563" width="3" height="3" rx="0.5"/>
<rect x="1297" y="582" width="3" height="3" rx="0.5"/>
<rect x="1250" y="593" width="3" height="3" rx="0.5"/>
<rect x="1201" y="596" width="3" height="3" rx="0.5"/>
<rect x="1152" y="593" width="3" height="3" rx="0.5"/>
<rect x="1105" y="582" width="3" height="3" rx="0.5"/>
<rect x="1060" y="563" width="3" height="3" rx="0.5"/>
<rect x="1020" y="539" width="3" height="3" rx="0.5"/>
<rect x="985" y="508" width="3" height="3" rx="0.5"/>
<rect x="957" y="473" width="3" height="3" rx="0.5"/>
<rect x="936" y="434" width="3" height="3" rx="0.5"/>
<rect x="924" y="393" width="3" height="3" rx="0.5"/>
<rect x="919" y="350" width="3" height="3" rx="0.5"/>
<rect x="924" y="307" width="3" height="3" rx="0.5"/>
<rect x="936" y="266" width="3" height="3" rx="0.5"/>
<rect x="957" y="227" width="3" height="3" rx="0.5"/>
<rect x="985" y="192" width="3" height="3" rx="0.5"/>
<rect x="1020" y="162" width="3" height="3" rx="0.5"/>
<rect x="1060" y="137" width="3" height="3" rx="0.5"/>
<rect x="1105" y="119" width="3" height="3" rx="0.5"/>
<rect x="1152" y="108" width="3" height="3" rx="0.5"/>
</g>
<circle cx="1337.5" cy="146.5" r="3.45" fill="#ff0000"/>
<rect x="920.5" y="105.5" width="564.0" height="493.0" fill="none" stroke="#000" stroke-width="1.1"/>
<line x1="920.5" y1="598.5" x2="920.5" y2="603.8" stroke="#000" stroke-width="1.1"/>
<line x1="920.5" y1="598.5" x2="915.2" y2="598.5" stroke="#000" stroke-width="1.1"/>
<text x="920.0" y="618.3" font-size="14.31" text-anchor="middle" textLength="41.5" lengthAdjust="spacingAndGlyphs">−1.00</text>
<text x="910.3" y="602.9" font-size="14.31" text-anchor="end" textLength="41.5" lengthAdjust="spacingAndGlyphs">−1.00</text>
<line x1="991.5" y1="598.5" x2="991.5" y2="603.8" stroke="#000" stroke-width="1.1"/>
<line x1="920.5" y1="536.5" x2="915.2" y2="536.5" stroke="#000" stroke-width="1.1"/>
<text x="990.5" y="618.3" font-size="14.31" text-anchor="middle" textLength="41.5" lengthAdjust="spacingAndGlyphs">−0.75</text>
<text x="910.3" y="541.3" font-size="14.31" text-anchor="end" textLength="41.5" lengthAdjust="spacingAndGlyphs">−0.75</text>
<line x1="1061.5" y1="598.5" x2="1061.5" y2="603.8" stroke="#000" stroke-width="1.1"/>
<line x1="920.5" y1="474.5" x2="915.2" y2="474.5" stroke="#000" stroke-width="1.1"/>
<text x="1060.9" y="618.3" font-size="14.31" text-anchor="middle" textLength="41.5" lengthAdjust="spacingAndGlyphs">−0.50</text>
<text x="910.3" y="479.7" font-size="14.31" text-anchor="end" textLength="41.5" lengthAdjust="spacingAndGlyphs">−0.50</text>
<line x1="1132.5" y1="598.5" x2="1132.5" y2="603.8" stroke="#000" stroke-width="1.1"/>
<line x1="920.5" y1="413.5" x2="915.2" y2="413.5" stroke="#000" stroke-width="1.1"/>
<text x="1131.4" y="618.3" font-size="14.31" text-anchor="middle" textLength="41.5" lengthAdjust="spacingAndGlyphs">−0.25</text>
<text x="910.3" y="418.1" font-size="14.31" text-anchor="end" textLength="41.5" lengthAdjust="spacingAndGlyphs">−0.25</text>
<line x1="1202.5" y1="598.5" x2="1202.5" y2="603.8" stroke="#000" stroke-width="1.1"/>
<line x1="920.5" y1="351.5" x2="915.2" y2="351.5" stroke="#000" stroke-width="1.1"/>
<text x="1202.5" y="618.3" font-size="14.31" text-anchor="middle" textLength="29.3" lengthAdjust="spacingAndGlyphs">0.00</text>
<text x="910.3" y="356.5" font-size="14.31" text-anchor="end" textLength="29.3" lengthAdjust="spacingAndGlyphs">0.00</text>
<line x1="1272.5" y1="598.5" x2="1272.5" y2="603.8" stroke="#000" stroke-width="1.1"/>
<line x1="920.5" y1="290.5" x2="915.2" y2="290.5" stroke="#000" stroke-width="1.1"/>
<text x="1273.0" y="618.3" font-size="14.31" text-anchor="middle" textLength="29.3" lengthAdjust="spacingAndGlyphs">0.25</text>
<text x="910.3" y="294.9" font-size="14.31" text-anchor="end" textLength="29.3" lengthAdjust="spacingAndGlyphs">0.25</text>
<line x1="1343.5" y1="598.5" x2="1343.5" y2="603.8" stroke="#000" stroke-width="1.1"/>
<line x1="920.5" y1="228.5" x2="915.2" y2="228.5" stroke="#000" stroke-width="1.1"/>
<text x="1343.4" y="618.3" font-size="14.31" text-anchor="middle" textLength="29.3" lengthAdjust="spacingAndGlyphs">0.50</text>
<text x="910.3" y="233.3" font-size="14.31" text-anchor="end" textLength="29.3" lengthAdjust="spacingAndGlyphs">0.50</text>
<line x1="1413.5" y1="598.5" x2="1413.5" y2="603.8" stroke="#000" stroke-width="1.1"/>
<line x1="920.5" y1="166.5" x2="915.2" y2="166.5" stroke="#000" stroke-width="1.1"/>
<text x="1413.9" y="618.3" font-size="14.31" text-anchor="middle" textLength="29.3" lengthAdjust="spacingAndGlyphs">0.75</text>
<text x="910.3" y="171.7" font-size="14.31" text-anchor="end" textLength="29.3" lengthAdjust="spacingAndGlyphs">0.75</text>
<line x1="1484.5" y1="598.5" x2="1484.5" y2="603.8" stroke="#000" stroke-width="1.1"/>
<line x1="920.5" y1="105.5" x2="915.2" y2="105.5" stroke="#000" stroke-width="1.1"/>
<text x="1484.3" y="618.3" font-size="14.31" text-anchor="middle" textLength="29.3" lengthAdjust="spacingAndGlyphs">1.00</text>
<text x="910.3" y="110.1" font-size="14.31" text-anchor="end" textLength="29.3" lengthAdjust="spacingAndGlyphs">1.00</text>
<text x="1204.2" y="80" font-size="22.89" text-anchor="middle" textLength="16.6" lengthAdjust="spacingAndGlyphs">N</text>
<text x="1204.2" y="656" font-size="22.89" text-anchor="middle" textLength="14.2" lengthAdjust="spacingAndGlyphs">S</text>
<text x="852" y="360" font-size="22.89" text-anchor="middle" textLength="21" lengthAdjust="spacingAndGlyphs">W</text>
<text x="1514" y="360" font-size="22.89" text-anchor="middle" textLength="14" lengthAdjust="spacingAndGlyphs">E</text>
<text x="151.9" y="720.6" font-size="22.89" textLength="41.44" lengthAdjust="spacingAndGlyphs">The</text>
<text x="200.3" y="720.6" font-size="22.89" textLength="102.71" lengthAdjust="spacingAndGlyphs">incoming</text>
<text x="309.63" y="720.6" font-size="22.89" textLength="105.88" lengthAdjust="spacingAndGlyphs">direction,</text>
<text x="422.11" y="720.6" font-size="22.89" textLength="29.05" lengthAdjust="spacingAndGlyphs">for</text>
<text x="460.84" y="720.6" font-size="22.89" textLength="64.24" lengthAdjust="spacingAndGlyphs">which</text>
<text x="532.18" y="720.6" font-size="22.89" textLength="36.72" lengthAdjust="spacingAndGlyphs">the</text>
<text x="575.58" y="720.6" font-size="22.89" textLength="94.47" lengthAdjust="spacingAndGlyphs">different</text>
<text x="677.64" y="720.6" font-size="22.89" textLength="64.45" lengthAdjust="spacingAndGlyphs">cutoff</text>
<text x="749.2" y="720.6" font-size="22.89" textLength="96.17" lengthAdjust="spacingAndGlyphs">rigidities</text>
<text x="853.0" y="720.6" font-size="22.89" textLength="41.78" lengthAdjust="spacingAndGlyphs">and</text>
<text x="902.62" y="720.6" font-size="22.89" textLength="36.27" lengthAdjust="spacingAndGlyphs">the</text>
<text x="945.72" y="720.6" font-size="22.89" textLength="112.95" lengthAdjust="spacingAndGlyphs">penumbra</text>
<text x="1067.5" y="720.6" font-size="22.89" textLength="101.35" lengthAdjust="spacingAndGlyphs">structure</text>
<text x="1176.26" y="720.6" font-size="22.89" textLength="35.29" lengthAdjust="spacingAndGlyphs">are</text>
<text x="1218.62" y="720.6" font-size="22.89" textLength="112.3" lengthAdjust="spacingAndGlyphs">computed</text>
<text x="1338.25" y="720.6" font-size="22.89" textLength="44.54" lengthAdjust="spacingAndGlyphs">(left</text>
<text x="1390.58" y="720.6" font-size="22.89" textLength="77.85" lengthAdjust="spacingAndGlyphs">panel),</text>
<text x="591.81" y="752.5" font-size="22.89" textLength="17.88" lengthAdjust="spacingAndGlyphs">is</text>
<text x="616.47" y="752.5" font-size="22.89" textLength="74.74" lengthAdjust="spacingAndGlyphs">signed</text>
<text x="697.38" y="752.5" font-size="22.89" textLength="26.37" lengthAdjust="spacingAndGlyphs">by</text>
<text x="732.42" y="752.5" font-size="22.89" textLength="36.54" lengthAdjust="spacingAndGlyphs">the</text>
<text x="775.95" y="752.5" font-size="22.89" textLength="36.37" lengthAdjust="spacingAndGlyphs">red</text>
<text x="819.76" y="752.5" font-size="22.89" textLength="55.93" lengthAdjust="spacingAndGlyphs">point</text>
<text x="883.89" y="752.5" font-size="22.89" textLength="60.67" lengthAdjust="spacingAndGlyphs">(right</text>
<text x="952.01" y="752.5" font-size="22.89" textLength="70.41" lengthAdjust="spacingAndGlyphs">panel)</text>
<text x="103.63" y="105.0" font-size="20.02" textLength="112.8" lengthAdjust="spacingAndGlyphs">Geographic</text>
<text x="222.16" y="105.0" font-size="20.02" textLength="84.46" lengthAdjust="spacingAndGlyphs">position:</text>
<text x="312.51" y="105.0" font-size="20.02" textLength="80.69" lengthAdjust="spacingAndGlyphs">49.19°N</text>
<text x="398.43" y="105.0" font-size="20.02" textLength="78.57" lengthAdjust="spacingAndGlyphs">20.21°E</text>
<text x="103.72" y="144.4" font-size="20.02" textLength="111.61" lengthAdjust="spacingAndGlyphs">2000/07/16</text>
<text x="221.39" y="144.4" font-size="20.02" textLength="86.99" lengthAdjust="spacingAndGlyphs">23:00:00</text>
<text x="103.79" y="176.9" font-size="14.31" textLength="88.27" lengthAdjust="spacingAndGlyphs">YYYY/MM/DD</text>
<text x="223.33" y="176.0" font-size="14.31" textLength="71.07" lengthAdjust="spacingAndGlyphs">HH:MM:SS</text>
<text x="475.72" y="183.9" font-size="22.89" textLength="101.16" lengthAdjust="spacingAndGlyphs">Direction</text>
<text x="583.33" y="183.9" font-size="22.89" textLength="31.68" lengthAdjust="spacingAndGlyphs">ID:</text>
<text x="622.11" y="183.9" font-size="22.89" textLength="41.9" lengthAdjust="spacingAndGlyphs">421</text>
<text x="116.06" y="380.2" font-size="20.02" textLength="13.72" lengthAdjust="spacingAndGlyphs">R</text>
<text x="136.47" y="380.2" font-size="20.02" textLength="15.01" lengthAdjust="spacingAndGlyphs">=</text>
<text x="158.67" y="380.2" font-size="20.02" textLength="42.19" lengthAdjust="spacingAndGlyphs">0.01</text>
<text x="208.07" y="380.2" font-size="20.02" textLength="27.87" lengthAdjust="spacingAndGlyphs">GV</text>
<text x="103.57" y="420.2" font-size="20.02" textLength="26.23" lengthAdjust="spacingAndGlyphs">Rd</text>
<text x="136.52" y="420.2" font-size="20.02" textLength="15.44" lengthAdjust="spacingAndGlyphs">=</text>
<text x="159.38" y="420.2" font-size="20.02" textLength="42.15" lengthAdjust="spacingAndGlyphs">9.65</text>
<text x="208.65" y="420.2" font-size="20.02" textLength="28.07" lengthAdjust="spacingAndGlyphs">GV</text>
<text x="103.62" y="460.3" font-size="20.02" textLength="24.87" lengthAdjust="spacingAndGlyphs">Re</text>
<text x="135.65" y="460.3" font-size="20.02" textLength="15.29" lengthAdjust="spacingAndGlyphs">=</text>
<text x="158.0" y="460.3" font-size="20.02" textLength="42.72" lengthAdjust="spacingAndGlyphs">9.65</text>
<text x="207.68" y="460.3" font-size="20.02" textLength="28.0" lengthAdjust="spacingAndGlyphs">GV</text>
<text x="103.49" y="500.2" font-size="20.02" textLength="25.3" lengthAdjust="spacingAndGlyphs">Ru</text>
<text x="135.65" y="500.2" font-size="20.02" textLength="15.29" lengthAdjust="spacingAndGlyphs">=</text>
<text x="158.0" y="500.2" font-size="20.02" textLength="42.72" lengthAdjust="spacingAndGlyphs">9.65</text>
<text x="207.66" y="500.2" font-size="20.02" textLength="28.16" lengthAdjust="spacingAndGlyphs">GV</text>
<text x="103.35" y="540.3" font-size="20.02" textLength="66.25" lengthAdjust="spacingAndGlyphs">Model:</text>
<text x="175.06" y="540.3" font-size="20.02" textLength="113.34" lengthAdjust="spacingAndGlyphs">Tsyganenko</text>
<text x="295.49" y="540.3" font-size="20.02" textLength="24.06" lengthAdjust="spacingAndGlyphs">05</text>
<text x="575.16" y="380.2" font-size="20.02" textLength="14.95" lengthAdjust="spacingAndGlyphs">=</text>
<text x="597.21" y="380.2" font-size="20.02" textLength="64.99" lengthAdjust="spacingAndGlyphs">73.67°</text>
<text x="575.16" y="420.2" font-size="20.02" textLength="14.95" lengthAdjust="spacingAndGlyphs">=</text>
<text x="596.65" y="420.2" font-size="20.02" textLength="65.61" lengthAdjust="spacingAndGlyphs">240.0°</text>
<text x="802.1" y="784.3" font-size="14.31" text-anchor="middle" textLength="53.6" lengthAdjust="spacingAndGlyphs">IEP SAS</text>
</svg></body></html>
